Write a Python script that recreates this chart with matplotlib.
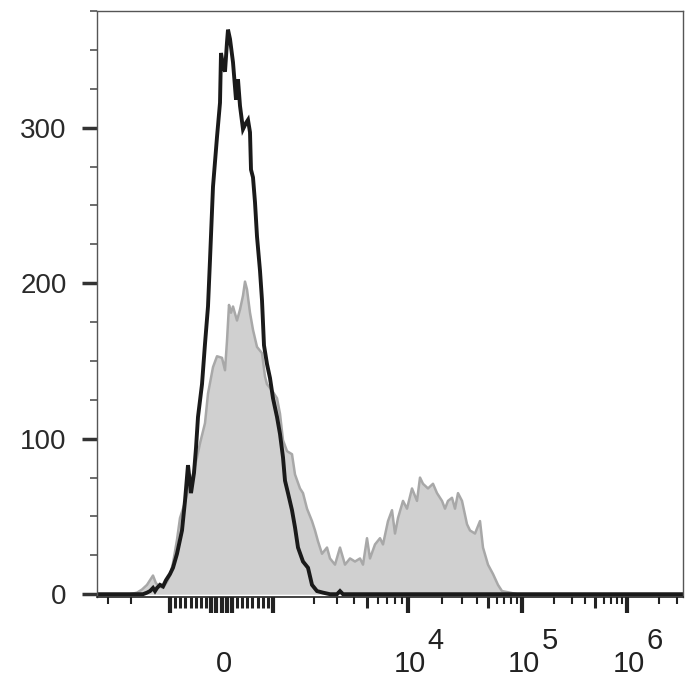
import numpy as np
import matplotlib
matplotlib.use('Agg')
import matplotlib.pyplot as plt
from matplotlib import font_manager

# histogram: display channel vs. event count
black_chan = [97, 143, 147, 150, 153, 155, 157, 160, 163, 166, 170, 173, 177, 182, 185, 188, 191, 194,
              196, 198, 202, 205, 208, 210, 213, 217, 220, 221, 223, 225, 227, 228, 230, 233, 236, 238,
              240, 243, 246, 248, 250, 251, 253, 255, 257, 260, 262, 264, 267, 270, 273, 277, 280, 283,
              285, 288, 292, 295, 298, 303, 308, 312, 317, 323, 330, 337, 340, 343, 683]
black_count = [0, 0, 1, 2, 4, 2, 4, 6, 5, 9, 13, 17, 26, 41, 60, 83, 65, 78,
               94, 114, 135, 161, 185, 215, 262, 294, 316, 348, 340, 336, 355, 363, 357, 342, 318, 331,
               314, 299, 303, 305, 297, 273, 268, 252, 230, 208, 189, 160, 148, 139, 126, 114, 103, 88,
               73, 65, 54, 43, 30, 21, 17, 6, 2, 1, 0, 0, 2, 0, 0]

gray_chan = [130, 137, 142, 147, 150, 153, 156, 160, 163, 167, 170, 173, 177, 180, 184, 187, 190, 193,
             197, 200, 205, 208, 213, 217, 222, 225, 227, 229, 231, 233, 237, 240, 243, 245, 247, 250,
             253, 257, 262, 265, 267, 272, 277, 280, 283, 287, 292, 295, 300, 303, 307, 312, 315, 318,
             322, 327, 330, 335, 340, 345, 350, 355, 360, 363, 367, 370, 375, 380, 383, 388, 392, 395,
             398, 403, 407, 412, 417, 420, 423, 428, 433, 437, 442, 445, 448, 452, 455, 458, 462, 467,
             470, 475, 480, 483, 488, 493, 498, 502, 510, 517]
gray_count = [0, 1, 3, 6, 9, 12, 7, 5, 4, 8, 12, 20, 35, 49, 57, 64, 70, 77,
              88, 97, 110, 129, 146, 153, 152, 144, 163, 186, 181, 185, 176, 183, 192, 201, 196, 181,
              170, 159, 155, 140, 135, 131, 126, 116, 99, 92, 90, 77, 68, 65, 55, 47, 41, 34,
              26, 30, 23, 19, 30, 19, 23, 21, 23, 19, 36, 23, 32, 36, 32, 47, 54, 39,
              49, 60, 55, 68, 60, 75, 71, 68, 71, 65, 60, 55, 60, 62, 55, 65, 60, 45,
              41, 39, 47, 30, 19, 13, 6, 2, 1, 0]

y_major = [0, 100, 200, 300]
y_minor = [25, 50, 75, 125, 150, 175, 225, 250, 275, 325, 350, 375]

label_vals = [0, 1e4, 1e5, 1e6]
label_base = ['0', '10', '10', '10']
label_exp = ['', '4', '5', '6']


def chan(v):
    # biexponential display used by the cytometer software
    if abs(v) <= 1000:
        return 221.5 + v * 0.0515
    if v < 0:
        return 170 - 130 * np.log10(-v / 1000.0)
    dec = [273, 408, 522, 627, 732]
    e = np.log10(v) - 3
    i = min(int(e), 3)
    return dec[i] + (dec[i + 1] - dec[i]) * (e - i)


long_vals = [-1000, -200, -100, 0, 100, 200, 1000, 1e4, 1e5, 1e6]
mid_vals = [-900, -800, -700, -600, -500, -400, -300, 300, 400, 500, 600, 700, 800, 900, 5e3, 5e4, 5e5]
short_vals = [-3000, -2000, 2e6, 3e6]
for d in [1e3, 1e4, 1e5]:
    short_vals += [k * d for k in [2, 3, 4, 6, 7, 8, 9]]

names = {f.name for f in font_manager.fontManager.ttflist}
narrow = 'Liberation Sans Narrow' if 'Liberation Sans Narrow' in names else 'Liberation Sans'

plt.rcParams['font.family'] = ['Liberation Sans', 'DejaVu Sans']

fig = plt.figure(figsize=(7, 7), dpi=100)
ax = fig.add_axes([97 / 700, 103 / 700, 586 / 700, 586 / 700])

ax.fill_between(gray_chan, gray_count, 0, color='#d0d0d0', lw=0)
ax.plot(gray_chan, gray_count, color='#a8a8a8', lw=1.8)
ax.plot(black_chan, black_count, color='#1a1a1a', lw=2.8, solid_joinstyle='miter')

ax.set_xlim(97, 683)
ax.set_ylim(-1.8, 375)

for s in ['top', 'right', 'left']:
    ax.spines[s].set_color('#555555')
    ax.spines[s].set_linewidth(1.0)
ax.spines['bottom'].set_color('#222222')
ax.spines['bottom'].set_linewidth(1.2)

ax.set_yticks(y_major)
ax.set_yticks(y_minor, minor=True)
ax.tick_params(axis='y', which='major', length=10.8, width=2.5, color='#333333',
               labelsize=20, labelcolor='#2a2a2a', pad=11)
ax.tick_params(axis='y', which='minor', length=5.0, width=1.1, color='#444444')

ax.set_xticks([chan(v) for v in long_vals])
ax.set_xticklabels([])
ax.set_xticks([chan(v) for v in short_vals], minor=True)
ax.tick_params(axis='x', which='major', length=11.5, width=3.0, color='#222222')
ax.tick_params(axis='x', which='minor', length=4.8, width=1.5, color='#222222')

sec = ax.secondary_xaxis('bottom')
sec.set_xticks([chan(v) for v in mid_vals])
sec.set_xticklabels([])
sec.tick_params(axis='x', length=7.8, width=2.2, color='#222222')
sec.spines['bottom'].set_visible(False)

xt = ax.get_xaxis_transform()
for v, b, e in zip(label_vals, label_base, label_exp):
    ax.annotate(b, xy=(chan(v), 0), xycoords=xt, xytext=(1.4, -48), textcoords='offset points',
                ha='center', va='center', fontsize=21, color='#222222', family=narrow)
    if e:
        ax.annotate(e, xy=(chan(v), 0), xycoords=xt, xytext=(20, -32), textcoords='offset points',
                    ha='center', va='center', fontsize=21, color='#222222', family=narrow)

fig.savefig('out.png', dpi=100)
